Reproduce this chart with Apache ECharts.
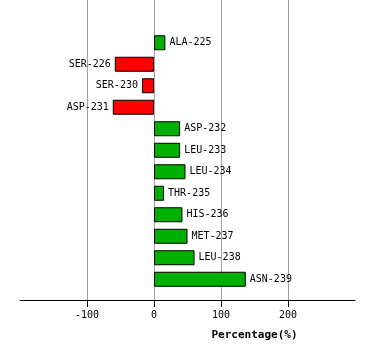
<!DOCTYPE html>
<html><head><meta charset="utf-8">
<script src="https://cdn.jsdelivr.net/npm/echarts@6/dist/echarts.min.js"></script>
<style>html,body{margin:0;padding:0;background:#fff}#c{width:374px;height:360px}</style>
</head><body><div id="c"></div>
<script>
const residues = ['ALA-225','SER-226','SER-230','ASP-231','ASP-232','LEU-233','LEU-234','THR-235','HIS-236','MET-237','LEU-238','ASN-239'];
const percentages = [17, -58.5, -18, -61.5, 39, 39, 47, 15, 42.5, 50, 60.5, 137];
const tickValues = [-100, 0, 100, 200];

const font = 'DejaVu Sans Mono';
const chart = echarts.init(document.getElementById('c'));
const data = percentages.map(v => ({
  value: v,
  itemStyle: {color: v < 0 ? '#ff0000' : '#00b000'},
  label: {position: v < 0 ? 'left' : 'right'}
}));
chart.setOption({
  animation: false,
  backgroundColor: '#fff',
  grid: [
    {left: 20, right: 19, top: 32, bottom: 70, containLabel: false},
    {left: 20, right: 19, top: 0, bottom: 60, containLabel: false}
  ],
  xAxis: [
    {gridIndex: 0, type: 'value', min: -200, max: 300, show: false},
    {gridIndex: 1, type: 'value', min: -200, max: 300, interval: 100,
     axisLine: {show: true, lineStyle: {color: '#000', width: 1}},
     axisTick: {show: true, length: 7, lineStyle: {color: '#000'}, customValues: tickValues},
     axisLabel: {customValues: tickValues, color: '#000', fontFamily: font, fontSize: 10, margin: 10},
     splitLine: {show: true, lineStyle: {color: '#a0a0a0', width: 1}},
     name: 'Percentage(%)', nameLocation: 'middle', nameGap: 30,
     nameTextStyle: {fontFamily: font, fontSize: 11, fontWeight: 'bold', color: '#000', padding: [0, 0, 0, 134]}
    }
  ],
  yAxis: [
    {gridIndex: 0, type: 'category', data: residues, inverse: true, show: false},
    {gridIndex: 1, type: 'value', show: false}
  ],
  series: [{
    type: 'bar', xAxisIndex: 0, yAxisIndex: 0, data: data, barWidth: 15,
    itemStyle: {borderColor: '#000', borderWidth: 1},
    label: {show: true, formatter: p => residues[p.dataIndex], fontFamily: font, fontSize: 10, color: '#000', distance: 4}
  }]
});
</script></body></html>
